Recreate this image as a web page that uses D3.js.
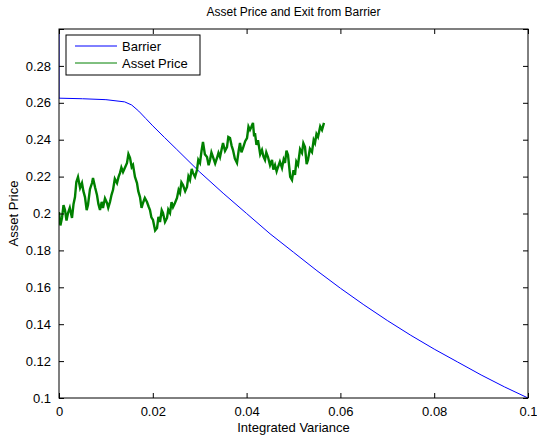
<!DOCTYPE html>
<html>
<head>
<meta charset="utf-8">
<script src="https://cdn.jsdelivr.net/npm/d3@7"></script>
<style>
  body { margin: 0; background: #fff; }
  text { font-family: "Liberation Sans", Arial, sans-serif; fill: #000; }
</style>
</head>
<body>
<div id="chart"></div>
<script>
// barrier curve (integrated variance -> price)
const barrierX = [0, 0, 0.005, 0.01, 0.014, 0.0155, 0.017, 0.0185, 0.02, 0.0225, 0.025, 0.03, 0.035, 0.04, 0.045, 0.05,
  0.055, 0.06, 0.065, 0.07, 0.075, 0.08, 0.085, 0.09, 0.095, 0.1];
const barrierY = [0.3, 0.2625, 0.2622, 0.2617, 0.2605, 0.2588, 0.2555, 0.2515, 0.2475, 0.2412, 0.235, 0.2225, 0.211, 0.2, 0.189, 0.179,
  0.169, 0.1595, 0.1505, 0.142, 0.134, 0.1265, 0.1195, 0.1125, 0.106, 0.1];

// asset path
const assetX = [0, 0.0003, 0.00064, 0.00096, 0.00128, 0.0016, 0.00192, 0.0023, 0.00277, 0.0031,
  0.00341, 0.0037, 0.00405, 0.0045, 0.0049, 0.0052, 0.00554, 0.0059, 0.00618, 0.0066,
  0.00704, 0.00725, 0.0077, 0.0081, 0.0084, 0.00874, 0.0091, 0.00938, 0.0098, 0.01023,
  0.0105, 0.01087, 0.0112, 0.01151, 0.0119, 0.01237, 0.0127, 0.01301, 0.0133, 0.01365,
  0.0141, 0.0145, 0.0148, 0.01514, 0.0155, 0.01578, 0.0162, 0.01663, 0.0169, 0.01727,
  0.0176, 0.01791, 0.0183, 0.01876, 0.0191, 0.0194, 0.0197, 0.02004, 0.0205, 0.0209,
  0.0212, 0.02154, 0.0219, 0.02217, 0.0226, 0.02303, 0.0233, 0.02367, 0.024, 0.02431,
  0.0247, 0.02516, 0.0255, 0.0258, 0.0261, 0.02644, 0.0269, 0.02729, 0.0276, 0.02793,
  0.0283, 0.02857, 0.029, 0.02942, 0.0297, 0.03006, 0.0304, 0.0307, 0.0311, 0.03156,
  0.0319, 0.0322, 0.0325, 0.03284, 0.0333, 0.03369, 0.034, 0.03433, 0.0347, 0.03497,
  0.0354, 0.03582, 0.0361, 0.03646, 0.0368, 0.0371, 0.0375, 0.03795, 0.0383, 0.03859,
  0.0389, 0.03923, 0.0397, 0.04009, 0.0404, 0.04072, 0.041, 0.04136, 0.0416, 0.04179,
  0.0421, 0.04243, 0.0429, 0.04328, 0.0436, 0.04392, 0.0442, 0.04456, 0.045, 0.04542,
  0.0457, 0.04606, 0.0464, 0.0467, 0.0471, 0.04755, 0.0479, 0.04819, 0.0485, 0.04883,
  0.0493, 0.04968, 0.05, 0.05032, 0.0506, 0.05096, 0.0514, 0.05181, 0.0521, 0.05245,
  0.0528, 0.05309, 0.0535, 0.05394, 0.0543, 0.05458, 0.0549, 0.05522, 0.0557, 0.05608, 0.0565];
const assetY = [0.2008, 0.1935, 0.1976, 0.2045, 0.2019, 0.1962, 0.2003, 0.2031, 0.1976, 0.2052,
  0.2089, 0.2171, 0.2198, 0.2139, 0.2165, 0.2121, 0.2089, 0.2018, 0.2046, 0.2132,
  0.2165, 0.2192, 0.2141, 0.21, 0.2052, 0.2019, 0.2063, 0.203, 0.2082, 0.2057,
  0.2031, 0.2062, 0.2101, 0.2127, 0.2188, 0.2165, 0.2198, 0.222, 0.2249, 0.2225,
  0.2251, 0.2274, 0.2322, 0.2301, 0.2252, 0.2263, 0.2198, 0.2165, 0.2121, 0.2089,
  0.2031, 0.2057, 0.2084, 0.2062, 0.2038, 0.2019, 0.1979, 0.1965, 0.1908, 0.1921,
  0.1982, 0.1954, 0.2018, 0.2003, 0.1954, 0.1976, 0.2021, 0.2003, 0.2062, 0.2035,
  0.2056, 0.2084, 0.2128, 0.2111, 0.2169, 0.2154, 0.2121, 0.2144, 0.2201, 0.2182,
  0.2242, 0.222, 0.2198, 0.2236, 0.2291, 0.2274, 0.2341, 0.2388, 0.2321, 0.2306,
  0.2262, 0.229, 0.2331, 0.2306, 0.2271, 0.2301, 0.2329, 0.2306, 0.2351, 0.2382,
  0.2339, 0.236, 0.2415, 0.2409, 0.2368, 0.2344, 0.2297, 0.2274, 0.2339, 0.2382,
  0.2331, 0.2355, 0.2392, 0.2409, 0.2471, 0.2453, 0.2469, 0.2491, 0.2418, 0.2436,
  0.2372, 0.2398, 0.2321, 0.2344, 0.2308, 0.229, 0.2331, 0.2306, 0.2262, 0.229,
  0.2238, 0.2263, 0.2228, 0.2252, 0.2281, 0.2247, 0.2293, 0.2274, 0.2341, 0.2317,
  0.2199, 0.2182, 0.2235, 0.2209, 0.2281, 0.2263, 0.2348, 0.2328, 0.2381, 0.236,
  0.2268, 0.229, 0.2351, 0.2333, 0.2398, 0.2382, 0.2431, 0.2415, 0.2472, 0.2453, 0.2491];

const xTicks = [0, 0.02, 0.04, 0.06, 0.08, 0.1];
const yTicks = [0.1, 0.12, 0.14, 0.16, 0.18, 0.2, 0.22, 0.24, 0.26, 0.28, 0.3];
const yLabels = ["0.1", "0.12", "0.14", "0.16", "0.18", "0.2", "0.22", "0.24", "0.26", "0.28", ""];
const xLabels = ["0", "0.02", "0.04", "0.06", "0.08", "0.1"];

var width = 537, height = 435;
var mLeft = 59, mRight = 528, mTop = 29, mBottom = 398;

var x = d3.scaleLinear().domain([0, 0.1]).range([mLeft, mRight]);
var y = d3.scaleLinear().domain([0.1, 0.3]).range([mBottom, mTop]);

var svg = d3.select("#chart").append("svg")
    .attr("width", width)
    .attr("height", height);

svg.append("defs").append("clipPath").attr("id", "plotclip")
    .append("rect")
    .attr("x", mLeft).attr("y", mTop)
    .attr("width", mRight - mLeft).attr("height", mBottom - mTop);

var line = d3.line().x(d => x(d[0])).y(d => y(d[1]));

var plot = svg.append("g").attr("clip-path", "url(#plotclip)");

plot.append("path")
    .datum(barrierX.map((v, i) => [v, barrierY[i]]))
    .attr("d", line)
    .attr("fill", "none")
    .attr("stroke", "#0000ff")
    .attr("stroke-width", 1);

plot.append("path")
    .datum(assetX.map((v, i) => [v, assetY[i]]))
    .attr("d", line)
    .attr("fill", "none")
    .attr("stroke", "#008000")
    .attr("stroke-width", 2.4);

// axes, matlab style: ticks inside on all four sides
var fmtX = (d, i) => xLabels[i];
var fmtY = (d, i) => yLabels[i];

var gB = svg.append("g").attr("transform", "translate(0," + mBottom + ")")
    .call(d3.axisBottom(x).tickValues(xTicks).tickFormat(fmtX).tickSizeInner(-5).tickSizeOuter(0).tickPadding(9));
var gT = svg.append("g").attr("transform", "translate(0," + mTop + ")")
    .call(d3.axisTop(x).tickValues(xTicks).tickFormat("").tickSizeInner(-5).tickSizeOuter(0));
var gL = svg.append("g").attr("transform", "translate(" + mLeft + ",0)")
    .call(d3.axisLeft(y).tickValues(yTicks).tickFormat(fmtY).tickSizeInner(-5).tickSizeOuter(0).tickPadding(8));
var gR = svg.append("g").attr("transform", "translate(" + mRight + ",0)")
    .call(d3.axisRight(y).tickValues(yTicks).tickFormat("").tickSizeInner(-5).tickSizeOuter(0));

[gB, gT, gL, gR].forEach(g => {
    g.select(".domain").remove();
    g.selectAll("line").attr("stroke", "#000");
    g.selectAll("text").style("font-size", "13px").attr("fill", "#000");
});

svg.append("rect")
    .attr("x", mLeft).attr("y", mTop)
    .attr("width", mRight - mLeft).attr("height", mBottom - mTop)
    .attr("fill", "none").attr("stroke", "#000").attr("stroke-width", 1);

// titles
svg.append("text")
    .attr("x", (mLeft + mRight) / 2).attr("y", 16)
    .attr("text-anchor", "middle")
    .style("font-size", "12px")
    .text("Asset Price and Exit from Barrier");

svg.append("text")
    .attr("x", (mLeft + mRight) / 2).attr("y", 432)
    .attr("text-anchor", "middle")
    .style("font-size", "13px")
    .text("Integrated Variance");

svg.append("text")
    .attr("transform", "translate(18," + ((mTop + mBottom) / 2) + ") rotate(-90)")
    .attr("text-anchor", "middle")
    .style("font-size", "13px")
    .text("Asset Price");

// legend
var legend = svg.append("g");
legend.append("rect")
    .attr("x", 66).attr("y", 35).attr("width", 134).attr("height", 40)
    .attr("fill", "#fff").attr("stroke", "#000").attr("stroke-width", 1);
var legItems = [["Barrier", "#0000ff"], ["Asset Price", "#008000"]];
legItems.forEach((d, i) => {
    var ly = 46 + i * 17;
    legend.append("line")
        .attr("x1", 75).attr("x2", 117).attr("y1", ly).attr("y2", ly)
        .attr("stroke", d[1]).attr("stroke-width", 1);
    legend.append("text")
        .attr("x", 122).attr("y", ly + 5)
        .style("font-size", "13px")
        .text(d[0]);
});
</script>
</body>
</html>
